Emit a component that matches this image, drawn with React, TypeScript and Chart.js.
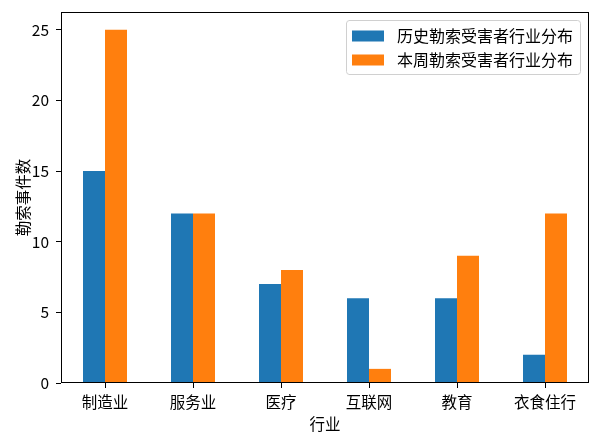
import React, { useEffect, useRef } from "react";
import { Chart, registerables } from "chart.js";

Chart.register(...registerables);

const categories = ["制造业", "服务业", "医疗", "互联网", "教育", "衣食住行"];
const historyLabel = "历史勒索受害者行业分布";
const weekLabel = "本周勒索受害者行业分布";
const historyValues = [15, 12, 7, 6, 6, 2];
const weekValues = [25, 12, 8, 1, 9, 12];
const yTitle = "勒索事件数";
const xTitle = "行业";

const FONT = "'Noto Sans CJK SC', 'DejaVu Sans', sans-serif";
const FS = 15.5;

const boxPlugin = {
  id: "boxPlugin",
  afterDatasetsDraw(chart: any) {
    const { ctx, chartArea } = chart;
    ctx.save();
    ctx.strokeStyle = "#000";
    ctx.lineWidth = 1;
    ctx.strokeRect(
      Math.round(chartArea.left) + 0.5,
      Math.round(chartArea.top) + 0.5,
      Math.round(chartArea.right - chartArea.left) - 1,
      Math.round(chartArea.bottom - chartArea.top) - 1
    );
    ctx.restore();
  },
};

const legendPlugin = {
  id: "mplLegend",
  afterDraw(chart: any) {
    const { ctx, chartArea } = chart;
    const right = chartArea.right - 9;
    const top = chartArea.top + 8;
    const w = 234;
    const h = 54;
    const left = right - w;
    ctx.save();
    ctx.fillStyle = "rgba(255,255,255,0.8)";
    ctx.strokeStyle = "#d0d0d0";
    ctx.lineWidth = 1;
    const r = 3;
    ctx.beginPath();
    ctx.moveTo(left + r, top + 0.5);
    ctx.lineTo(left + w - r, top + 0.5);
    ctx.arcTo(left + w + 0.5, top + 0.5, left + w + 0.5, top + r, r);
    ctx.lineTo(left + w + 0.5, top + h - r);
    ctx.arcTo(left + w + 0.5, top + h + 0.5, left + w - r, top + h + 0.5, r);
    ctx.lineTo(left + r, top + h + 0.5);
    ctx.arcTo(left + 0.5, top + h + 0.5, left + 0.5, top + h - r, r);
    ctx.lineTo(left + 0.5, top + r);
    ctx.arcTo(left + 0.5, top + 0.5, left + r, top + 0.5, r);
    ctx.closePath();
    ctx.fill();
    ctx.stroke();
    ctx.font = `${FS + 0.5}px ${FONT}`;
    ctx.textBaseline = "middle";
    ctx.textAlign = "left";
    chart.data.datasets.forEach((ds: any, i: number) => {
      const cy = top + 16 + i * 24;
      ctx.fillStyle = ds.backgroundColor;
      ctx.fillRect(left + 6, cy - 5.5, 32, 11);
      ctx.fillStyle = "#000";
      ctx.fillText(ds.label, left + 51, cy);
    });
    ctx.restore();
  },
};

export default function App() {
  const ref = useRef<HTMLCanvasElement>(null);
  useEffect(() => {
    if (!ref.current) return;
    const chart = new Chart(ref.current, {
      type: "bar",
      data: {
        labels: categories,
        datasets: [
          {
            label: historyLabel,
            data: historyValues,
            backgroundColor: "#1f77b4",
            borderWidth: 0,
            categoryPercentage: 0.5,
            barPercentage: 1.0,
          },
          {
            label: weekLabel,
            data: weekValues,
            backgroundColor: "#ff7f0e",
            borderWidth: 0,
            categoryPercentage: 0.5,
            barPercentage: 1.0,
          },
        ],
      },
      options: {
        animation: false,
        responsive: false,
        devicePixelRatio: 1,
        layout: { padding: { left: 0, top: 12, right: 11, bottom: 0 } },
        plugins: { legend: { display: false }, tooltip: { enabled: false } },
        scales: {
          x: {
            grid: {
              display: true,
              drawOnChartArea: false,
              drawTicks: true,
              tickLength: 5,
              color: "#000",
              offset: false,
            },
            border: { display: false },
            ticks: { color: "#000", font: { family: FONT, size: FS }, padding: 5, maxRotation: 0 },
            title: {
              display: true,
              text: xTitle,
              color: "#000",
              font: { family: FONT, size: FS },
              padding: { top: 0, bottom: 11.5 },
            },
            afterFit(scale: any) {
              scale.height = 62;
            },
          },
          y: {
            min: 0,
            max: 26.25,
            grid: {
              display: true,
              drawOnChartArea: false,
              drawTicks: true,
              tickLength: 5,
              color: "#000",
            },
            border: { display: false },
            ticks: {
              stepSize: 5,
              includeBounds: false,
              color: "#000",
              font: { family: FONT, size: FS, lineHeight: 1 },
              padding: 7,
            },
            title: {
              display: true,
              text: yTitle,
              color: "#000",
              font: { family: FONT, size: FS },
              padding: { top: 13.5, bottom: 0 },
            },
            afterFit(scale: any) {
              scale.width = 61;
              scale.paddingTop = 0;
              scale.paddingBottom = 0;
            },
          },
        },
      },
      plugins: [boxPlugin, legendPlugin],
    });
    return () => chart.destroy();
  }, []);
  return (
    <div style={{ position: "absolute", left: 0, top: 0, width: 600, height: 445, background: "#fff" }}>
      <canvas ref={ref} width={600} height={445} />
    </div>
  );
}
